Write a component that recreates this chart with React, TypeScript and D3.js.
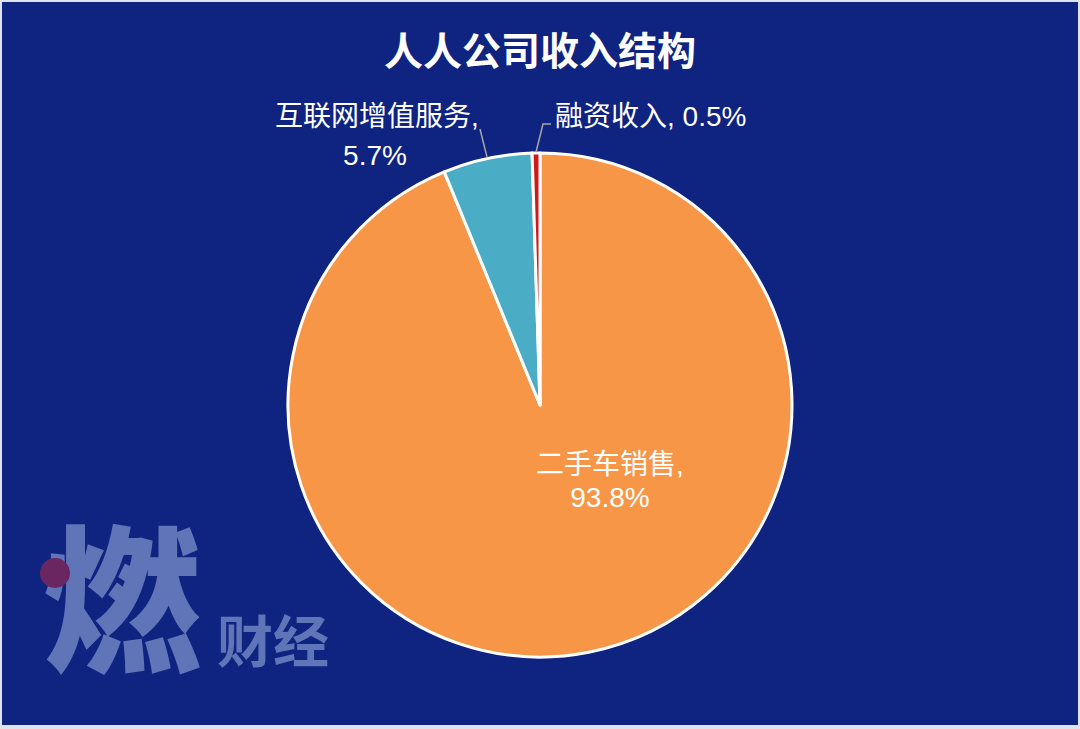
import React, { useEffect, useRef } from 'react';
import * as d3 from 'd3';

const title = '人人公司收入结构';
const categories = ['二手车销售', '互联网增值服务', '融资收入'];
const shares = [93.8, 5.7, 0.5];
const colors = ['#f79646', '#4bacc6', '#d01a1a'];

export default function App() {
  const svgRef = useRef<SVGSVGElement>(null);

  useEffect(() => {
    const width = 1080;
    const height = 729;
    const cx = 540;
    const cy = 405;
    const radius = 252;
    const font = '"Noto Sans CJK SC", "Noto Sans", sans-serif';
    const labelFont = '"Liberation Sans", "Noto Sans CJK SC", sans-serif';

    const svg = d3.select(svgRef.current);
    svg.selectAll('*').remove();
    svg.attr('width', width).attr('height', height);

    // background + thin light frame
    svg.append('rect').attr('width', width).attr('height', height).attr('fill', '#dfe3ee');
    svg.append('rect').attr('x', 2).attr('y', 2).attr('width', width - 4).attr('height', height - 6).attr('fill', '#0f2380');

    // watermark
    const wm = svg.append('g');
    wm.append('text')
      .attr('x', 122).attr('y', 660)
      .attr('text-anchor', 'middle')
      .style('font-family', font).style('font-weight', 900).style('font-size', '158px')
      .attr('fill', '#6074b8')
      .text('燃');
    wm.append('circle').attr('cx', 55).attr('cy', 573).attr('r', 15).attr('fill', '#6a2660');
    wm.append('text')
      .attr('x', 217).attr('y', 662)
      .style('font-family', font).style('font-weight', 700).style('font-size', '56px')
      .attr('fill', '#6074b8')
      .text('财经');

    // title
    svg.append('text')
      .attr('x', width / 2).attr('y', 65)
      .attr('text-anchor', 'middle')
      .style('font-family', font).style('font-weight', 700).style('font-size', '39px')
      .attr('fill', '#ffffff')
      .text(title);

    const data = categories.map((c, i) => ({ name: c, value: shares[i], color: colors[i] }));
    const pie = d3.pie<any>().sort(null).value((d) => d.value);
    const arc = d3.arc<any>().innerRadius(0).outerRadius(radius);
    const arcs = pie(data);

    const chart = svg.append('g').attr('transform', `translate(${cx},${cy})`);
    chart.selectAll('path')
      .data(arcs)
      .enter()
      .append('path')
      .attr('d', arc)
      .attr('fill', (d) => d.data.color)
      .attr('stroke', '#ffffff')
      .attr('stroke-width', 3)
      .attr('stroke-linejoin', 'round');

    const edge = (d: any) => {
      const a = (d.startAngle + d.endAngle) / 2;
      return [Math.sin(a) * (radius + 1), -Math.cos(a) * (radius + 1)];
    };

    const labelStyle = (t: any) =>
      t.style('font-family', labelFont).style('font-size', '28px').attr('fill', '#ffffff');

    // big slice label inside
    const big = chart.append('text').attr('text-anchor', 'middle').call(labelStyle);
    big.append('tspan').attr('x', 70).attr('y', 69).text(`${categories[0]},`);
    big.append('tspan').attr('x', 70).attr('y', 102).text(`${shares[0]}%`);

    // teal slice label with leader
    const p1 = edge(arcs[1]);
    chart.append('polyline')
      .attr('points', `${p1[0]},${p1[1]} ${-60},${-276}`)
      .attr('fill', 'none').attr('stroke', '#a6a6a6').attr('stroke-width', 1.5);
    const mid = chart.append('text').attr('text-anchor', 'middle').call(labelStyle);
    mid.append('tspan').attr('x', -163).attr('y', -279).text(`${categories[1]},`);
    mid.append('tspan').attr('x', -165).attr('y', -240).text(`${shares[1]}%`);

    // red slice label with leader
    const p2 = edge(arcs[2]);
    chart.append('polyline')
      .attr('points', `${p2[0]},${p2[1]} ${3},${-281} ${11},${-281}`)
      .attr('fill', 'none').attr('stroke', '#a6a6a6').attr('stroke-width', 1.5);
    chart.append('text').attr('x', 15).attr('y', -279).call(labelStyle)
      .text(`${categories[2]}, ${shares[2]}%`);
  }, []);

  return <svg ref={svgRef} style={{ position: 'absolute', left: 0, top: 0, display: 'block' }} />;
}
